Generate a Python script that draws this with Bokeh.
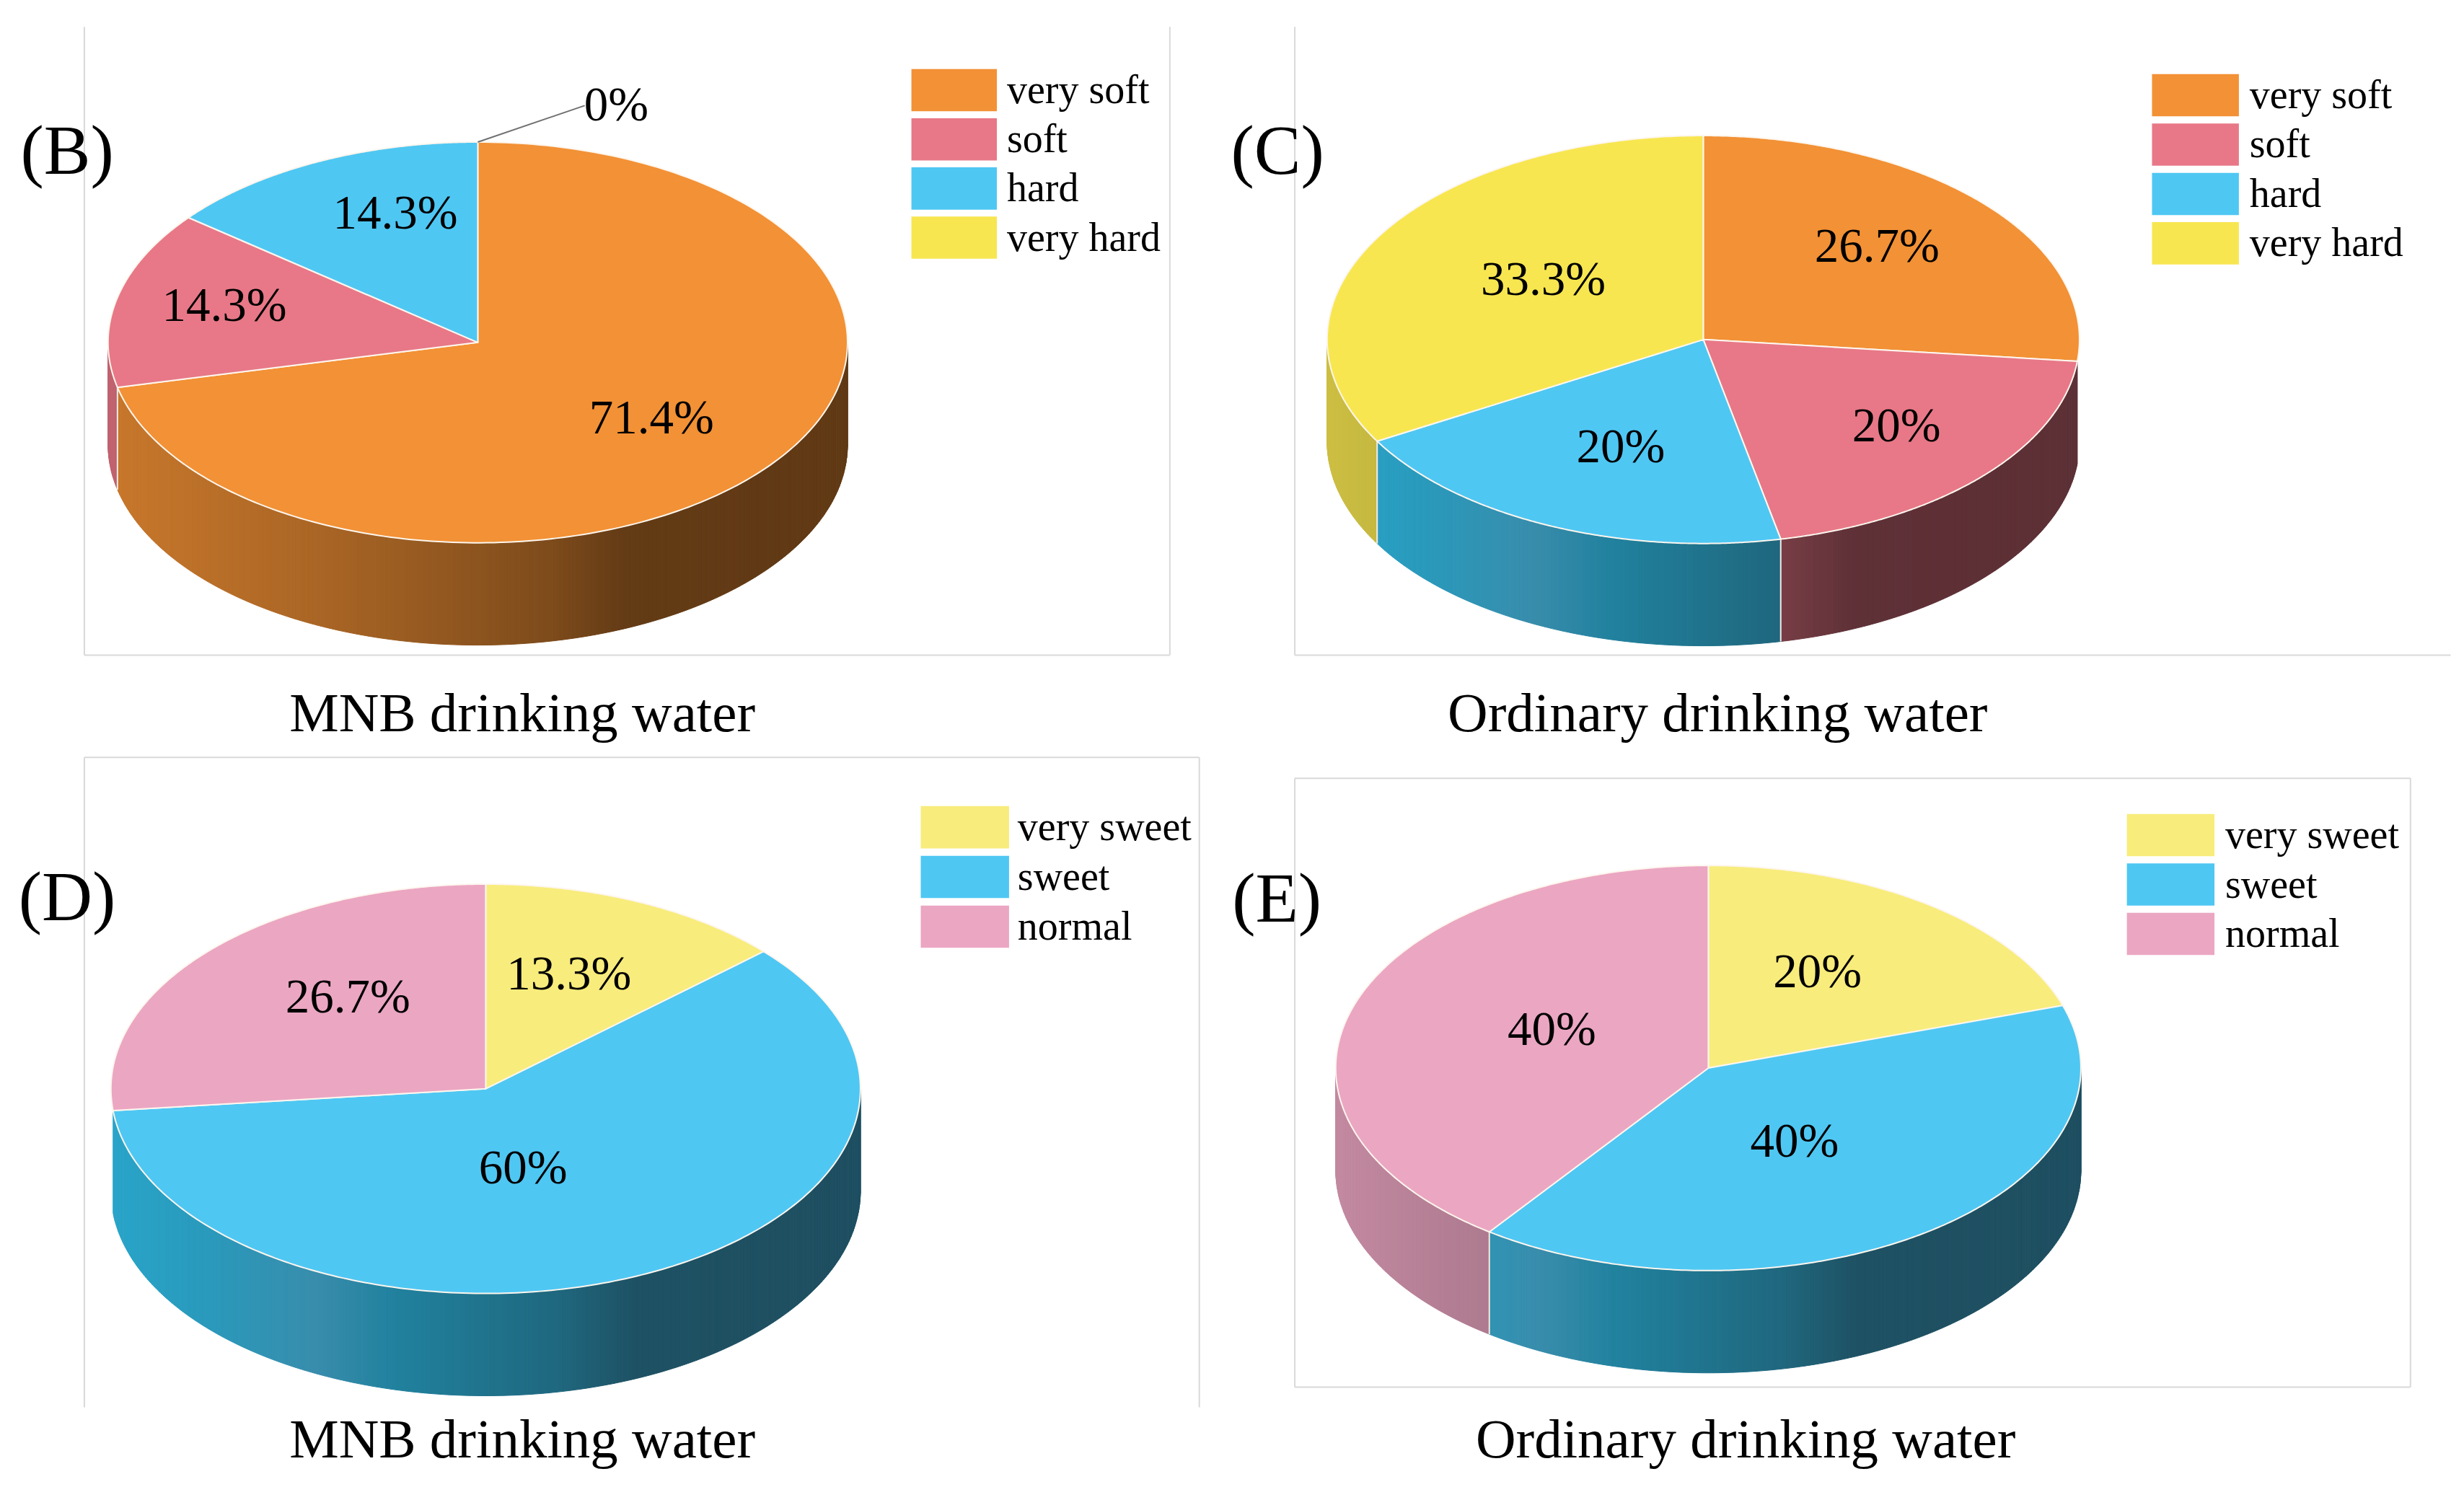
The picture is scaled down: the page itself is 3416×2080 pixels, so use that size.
import numpy as np
from bokeh.plotting import figure
from bokeh.models import Range1d
from bokeh.core.properties import value
from bokeh.embed import file_html
from bokeh.resources import INLINE

# ---- data ----
hardness_categories = ["very soft", "soft", "hard", "very hard"]
sweetness_categories = ["very sweet", "sweet", "normal"]
b_values = [71.4, 14.3, 14.3, 0]
c_values = [26.7, 20, 20, 33.3]
d_values = [13.3, 60, 26.7]
e_values = [20, 40, 40]
b_labels = ["71.4%", "14.3%", "14.3%", "0%"]
c_labels = ["26.7%", "20%", "20%", "33.3%"]
d_labels = ["13.3%", "60%", "26.7%"]
e_labels = ["20%", "40%", "40%"]
hardness_colors = ["#f29135", "#e87887", "#4fc7f3", "#f7e650"]
sweetness_colors = ["#f8ec7c", "#4fc7f3", "#eba6c2"]
SERIF = value("Liberation Serif")
BLUE = "#4fc7f3"

panels = [
    dict(tag="(B)", tag_xy=(93, 210), title="MNB drinking water", title_xy=(727, 995),
         values=b_values, labels=b_labels, cats=hardness_categories, colors=hardness_colors,
         c=(665, 478), r=(515, 280), depth=143, no_wall=[],
         label_xy=[(907, 582), (312, 425), (550, 296), (858, 145)],
         sw_x=(1269, 1388), sw_y=96, sw_h=59, sw_step=68.7, txt_x=1402,
         borders=[((117, 37), (117, 915)), ((117, 915), (1629, 915)), ((1629, 37), (1629, 915))]),
    dict(tag="(C)", tag_xy=(1779, 210), title="Ordinary drinking water", title_xy=(2392, 995),
         values=c_values, labels=c_labels, cats=hardness_categories, colors=hardness_colors,
         c=(2372, 474), r=(524, 285), depth=143, no_wall=[0],
         label_xy=[(2614, 342), (2641, 593), (2257, 622), (2149, 388)],
         sw_x=(2997, 3118), sw_y=103, sw_h=59, sw_step=69, txt_x=3133,
         borders=[((1803, 37), (1803, 915)), ((1803, 915), (3413, 915))]),
    dict(tag="(D)", tag_xy=(93, 1253), title="MNB drinking water", title_xy=(727, 2010),
         values=d_values, labels=d_labels, cats=sweetness_categories, colors=sweetness_colors,
         c=(676, 1521), r=(522, 286), depth=143, no_wall=[2],
         label_xy=[(792, 1359), (728, 1630), (484, 1391)],
         sw_x=(1282, 1405), sw_y=1126, sw_h=59, sw_step=69.5, txt_x=1417,
         borders=[((117, 1058), (117, 1966)), ((117, 1058), (1670, 1058)), ((1670, 1058), (1670, 1966))]),
    dict(tag="(E)", tag_xy=(1778, 1255), title="Ordinary drinking water", title_xy=(2431, 2010),
         values=e_values, labels=e_labels, cats=sweetness_categories, colors=sweetness_colors,
         c=(2379, 1492), r=(519, 283), depth=143, no_wall=[],
         label_xy=[(2531, 1356), (2499, 1593), (2161, 1437)],
         sw_x=(2962, 3084), sw_y=1137, sw_h=59, sw_step=69, txt_x=3099,
         borders=[((1803, 1087), (1803, 1938)), ((1803, 1938), (3357, 1938)),
                  ((3357, 1087), (3357, 1938)), ((1803, 1087), (3357, 1087))]),
]

p = figure(width=3400, height=2064, x_range=Range1d(0, 3416), y_range=Range1d(2080, 0),
           output_backend="svg", toolbar_location=None,
           x_axis_location=None, y_axis_location=None, min_border=0)
p.grid.visible = False
p.outline_line_color = None
p.background_fill_color = "white"
p.border_fill_color = "white"


def shade(col, rel):
    f = np.interp(rel, [-1, -0.5, -0.2, 0.2, 0.4, 1], [0.83, 0.72, 0.64, 0.52, 0.41, 0.40])
    rgb = [int(col[i:i + 2], 16) for i in (1, 3, 5)]
    out = [v * f for v in rgb]
    if col == BLUE:
        out[0] = rgb[0] * np.interp(rel, [-1, -0.75, -0.45, -0.25, 0.4], [0.53, 0.53, 0.72, 0.42, 0.39])
    return "#%02x%02x%02x" % tuple(int(v) for v in out)


def pt(c, r, deg):
    t = np.radians(deg)
    return c[0] + r[0] * np.sin(t), c[1] - r[1] * np.cos(t)


for pn in panels:
    for (a, b) in pn["borders"]:
        p.line([a[0], b[0]], [a[1], b[1]], line_color="#d9d9d9", line_width=2)

    c, r, depth = pn["c"], pn["r"], pn["depth"]
    total = sum(pn["values"])
    edges = np.concatenate([[0], np.cumsum(pn["values"])]) / total * 360

    # side walls
    wx, wy, wc = [], [], []
    seams = []
    for i, col in enumerate(pn["colors"]):
        if i in pn["no_wall"]:
            continue
        a0, a1 = max(edges[i], 90), min(edges[i + 1], 270)
        if a1 <= a0:
            continue
        steps = np.linspace(a0, a1, max(2, int((a1 - a0) / 0.75) + 1))
        for t0, t1 in zip(steps[:-1], steps[1:]):
            x0, y0 = pt(c, r, t0)
            x1, y1 = pt(c, r, t1)
            wx.append([x0, x1, x1, x0])
            wy.append([y0, y1, y1 + depth, y0 + depth])
            wc.append(shade(col, ((x0 + x1) / 2 - c[0]) / r[0]))
        if 90 < edges[i + 1] < 270 and (i + 1) not in pn["no_wall"]:
            seams.append(pt(c, r, edges[i + 1]))
    p.patches(wx, wy, fill_color=wc, line_color=wc, line_width=1)
    for (sx, sy) in seams:
        p.line([sx, sx], [sy, sy + depth], line_color="#f4ece4", line_width=2)

    # top face
    for i, col in enumerate(pn["colors"]):
        if pn["values"][i] <= 0:
            continue
        ang = np.linspace(edges[i], edges[i + 1], 240)
        xs, ys = pt(c, r, ang)
        p.patch(np.r_[c[0], xs], np.r_[c[1], ys], fill_color=col,
                line_color="#fdf6ee", line_width=2, line_join="round")

    # labels
    lx = [q[0] for q in pn["label_xy"]]
    ly = [q[1] for q in pn["label_xy"]]
    p.text(lx, ly, text=pn["labels"], text_font=SERIF, text_font_size=value("67px"),
           text_align="center", text_baseline="middle", text_color="#000000")

    # zero-slice leader line
    for i, v in enumerate(pn["values"]):
        if v == 0:
            ax, ay = pt(c, r, edges[i])
            p.line([ax, pn["label_xy"][i][0] - 44], [ay, pn["label_xy"][i][1] + 2],
                   line_color="#707070", line_width=2)

    # legend
    for i, (cat, col) in enumerate(zip(pn["cats"], pn["colors"])):
        top = pn["sw_y"] + i * pn["sw_step"]
        p.quad(left=pn["sw_x"][0], right=pn["sw_x"][1], top=top, bottom=top + pn["sw_h"],
               fill_color=col, line_color=None)
        p.text([pn["txt_x"]], [top + pn["sw_h"] / 2 - 1], text=[cat], text_font=SERIF,
               text_font_size=value("56px"), text_align="left", text_baseline="middle",
               text_color="#000000")

    # panel tag and caption
    p.text([pn["tag_xy"][0]], [pn["tag_xy"][1]], text=[pn["tag"]], text_font=SERIF,
           text_font_size=value("97px"), text_align="center", text_baseline="middle",
           text_color="#000000")
    p.text([pn["title_xy"][0]], [pn["title_xy"][1]], text=[pn["title"]], text_font=SERIF,
           text_font_size=value("77px"), text_align="center", text_baseline="middle",
           text_color="#000000")

open("out.html", "w").write(file_html(p, INLINE))
